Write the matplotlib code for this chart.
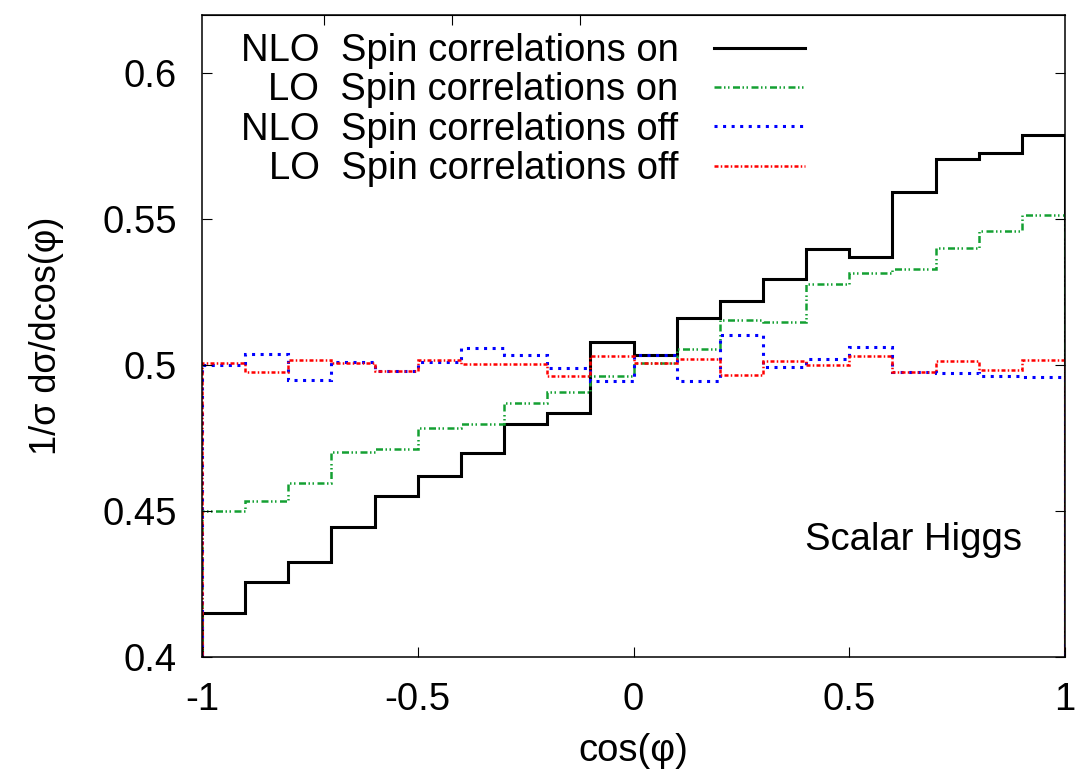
import matplotlib
matplotlib.use("Agg")
import matplotlib.pyplot as plt
import numpy as np

plt.rcParams['font.family'] = ['Liberation Sans', 'DejaVu Sans']

# bin edges of cos(phi), 20 bins from -1 to 1
edges = np.linspace(-1, 1, 21)

nlo_on = [0.415, 0.4256, 0.4327, 0.4445, 0.455, 0.4619, 0.4699, 0.4798, 0.4836, 0.5078,
          0.5034, 0.516, 0.5219, 0.5297, 0.5399, 0.5371, 0.5593, 0.5708, 0.5726, 0.5788]
lo_on = [0.4502, 0.4536, 0.4595, 0.4703, 0.4714, 0.4786, 0.480, 0.4871, 0.4909, 0.4962,
         0.5007, 0.5057, 0.5154, 0.5148, 0.5278, 0.5315, 0.5328, 0.5402, 0.5461, 0.5516]
nlo_off = [0.4999, 0.5037, 0.4950, 0.5011, 0.4980, 0.5010, 0.5058, 0.5034, 0.4990, 0.4947,
           0.5034, 0.4947, 0.5105, 0.4993, 0.5021, 0.5062, 0.4976, 0.4973, 0.4962, 0.4959]
lo_off = [0.5007, 0.4978, 0.5018, 0.5009, 0.4980, 0.5019, 0.5005, 0.5005, 0.4964, 0.5030,
          0.5007, 0.5022, 0.4966, 0.5015, 0.4999, 0.5030, 0.4976, 0.5014, 0.4983, 0.5018]

labels = ["NLO  Spin correlations on", "LO  Spin correlations on",
          "NLO  Spin correlations off", "LO  Spin correlations off"]

fig = plt.figure(figsize=(10.75, 7.74), dpi=100)
ax = fig.add_axes([202/1075, 1 - 657/774, 863/1075, 642/774])

ax.stairs(nlo_on, edges, baseline=0, color="black", lw=2.2, label=labels[0])
ax.stairs(lo_on, edges, baseline=0, color="#14a032", lw=1.8,
          linestyle=(0, (2.8, 1.0, 0.6, 1.0, 0.6, 1.4)), label=labels[1])
ax.stairs(nlo_off, edges, baseline=0, color="#0000ff", lw=2.2,
          linestyle=(0, (1, 1.8)), label=labels[2])
ax.stairs(lo_off, edges, baseline=0, color="#ff0000", lw=1.8,
          linestyle=(0, (1.6, 0.9, 0.6, 0.9)), label=labels[3])

ax.set_xlim(-1, 1)
ax.set_ylim(0.4, 0.62)
ax.set_xticks([-1, -0.5, 0, 0.5, 1])
ax.set_xticklabels(["-1", "-0.5", "0", "0.5", "1"])
ax.set_yticks([0.4, 0.45, 0.5, 0.55, 0.6])
ax.set_yticklabels(["0.4", "0.45", "0.5", "0.55", "0.6"])
ax.tick_params(direction="in", length=7, width=0.8, labelsize=27.5,
               right=True, top=False, pad=18)
for s in ax.spines.values():
    s.set_linewidth(1.1)

# odd extra tics along the top border
top = ax.secondary_xaxis("top")
top.set_xticks([-0.718, -0.42, -0.125])
top.tick_params(direction="in", length=7, width=0.8, labeltop=False)

ax.set_xlabel("cos(φ)", fontsize=27.5)
ax.xaxis.set_label_coords(0.5, -0.118)
ax.set_ylabel("1/σ dσ/dcos(φ)", fontsize=26)
ax.yaxis.set_label_coords(-0.16, 0.5)

ax.text(0.95, 0.1667, "Scalar Higgs", transform=ax.transAxes, ha="right",
        va="baseline", fontsize=27.5)

leg = ax.legend(loc="upper right", bbox_to_anchor=(0.699, 0.972), frameon=False,
                markerfirst=False, fontsize=27.5, handlelength=2.4,
                handletextpad=0.92, labelspacing=0.09, borderpad=0, borderaxespad=0)

fig.savefig("out.png", dpi=100)
